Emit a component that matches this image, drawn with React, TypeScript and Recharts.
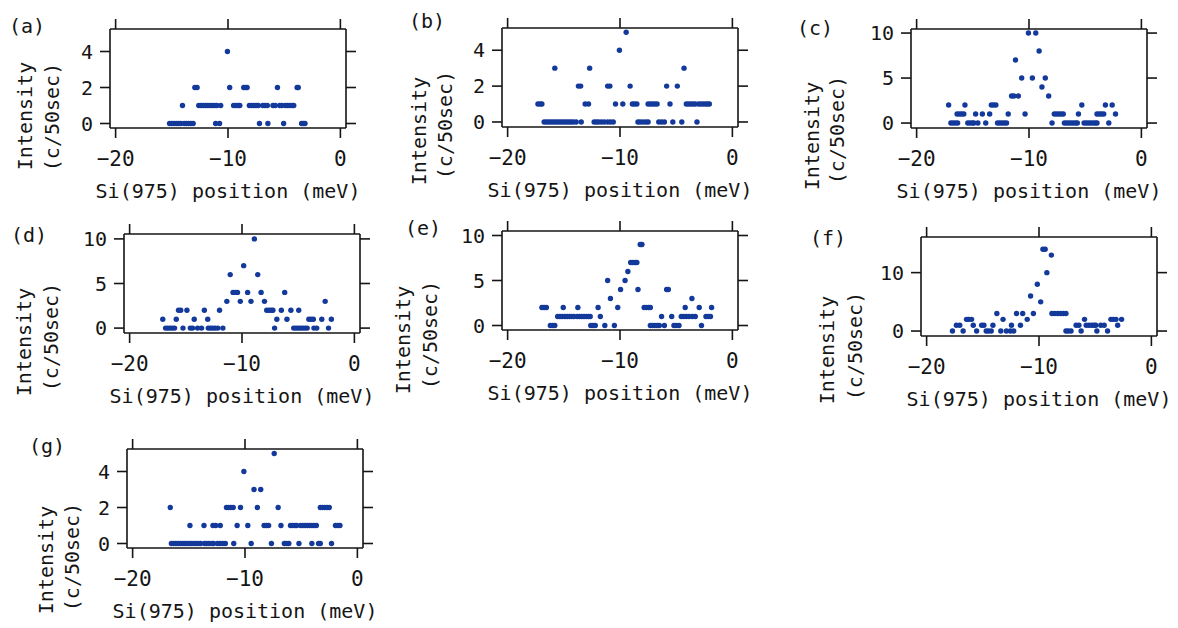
import { ScatterChart, Scatter, XAxis, YAxis } from 'recharts'

// each row: [count, positions in meV]
type Row = [number, number[]]

const X_TICKS = [-20, -10, 0]
const X_DOMAIN = [-20.5, 0.5]
const TICKS_SMALL = [0, 2, 4]
const TICKS_MID = [0, 5, 10]
const TICKS_F = [0, 10]

const panelA: Row[] = [
  [0, [-15.2, -15.0, -14.8, -14.6, -14.4, -14.2, -13.9, -13.7, -13.5, -13.3, -13.1, -11.1, -10.75, -7.2, -6.45, -5.05, -3.45, -3.3, -3.15]],
  [1, [-14.05, -12.6, -12.4, -12.2, -12.0, -11.8, -11.6, -11.4, -11.2, -11.0, -10.65, -9.5, -9.3, -9.1, -8.95, -8.1, -7.9, -7.7, -7.5, -7.3, -6.9, -6.7, -6.5, -6.0, -5.8, -5.4, -5.2, -4.9, -4.7, -4.5, -4.3, -4.15]],
  [2, [-12.95, -12.75, -9.85, -8.6, -8.45, -8.3, -5.6, -3.85, -3.75]],
  [4, [-10.05]],
]

const panelB: Row[] = [
  [0, [-16.75, -16.55, -16.35, -16.15, -15.95, -15.75, -15.55, -15.35, -15.15, -14.95, -14.75, -14.55, -14.35, -14.15, -13.9, -13.45, -12.3, -12.1, -11.9, -11.65, -11.4, -11.1, -10.85, -10.6, -8.4, -8.2, -7.95, -7.7, -7.5, -6.55, -6.3, -6.05, -5.3, -4.5, -3.15]],
  [1, [-17.3, -17.1, -16.95, -13.1, -12.8, -10.4, -9.75, -8.9, -8.7, -8.5, -7.5, -7.3, -7.1, -6.9, -6.7, -5.55, -4.1, -3.9, -3.7, -3.5, -3.3, -3.0, -2.8, -2.6, -2.4, -2.2, -2.05]],
  [2, [-13.7, -13.5, -11.1, -10.9, -9.1, -5.85, -4.9]],
  [3, [-15.8, -12.7, -4.3]],
  [4, [-10.05]],
  [5, [-9.45]],
]

const panelC: Row[] = [
  [0, [-16.95, -16.75, -16.55, -16.35, -15.45, -15.25, -15.05, -14.9, -14.55, -13.85, -12.8, -12.6, -12.4, -12.2, -12.0, -7.95, -6.85, -6.65, -6.45, -6.25, -6.05, -5.85, -5.7, -5.1, -4.9, -4.7, -4.5, -4.3, -4.1, -3.95, -2.9]],
  [1, [-16.4, -16.2, -16.0, -15.8, -14.75, -14.15, -13.5, -11.85, -10.35, -7.75, -7.55, -7.35, -7.15, -6.95, -5.6, -3.95, -3.75, -3.55, -3.35, -2.3]],
  [2, [-17.15, -15.7, -13.35, -13.15, -12.95, -5.3, -3.2, -2.6]],
  [3, [-11.55, -11.35, -10.95, -8.25]],
  [4, [-8.85]],
  [5, [-10.65, -9.7, -8.55]],
  [7, [-11.2]],
  [8, [-9.1]],
  [10, [-10.05, -9.4]],
]

const panelD: Row[] = [
  [0, [-16.8, -16.6, -16.4, -16.2, -16.0, -15.25, -14.6, -14.4, -13.95, -13.6, -13.0, -12.8, -12.6, -12.4, -12.15, -11.7, -7.1, -5.4, -5.2, -5.0, -4.8, -4.6, -4.4, -4.2, -3.6, -3.35, -2.3]],
  [1, [-17.05, -15.85, -14.25, -13.05, -6.9, -6.0, -4.05, -3.85, -3.65, -2.9, -2.05]],
  [2, [-15.65, -15.45, -14.9, -13.35, -12.0, -7.8, -7.6, -7.4, -7.25, -6.5, -5.65, -4.95]],
  [3, [-11.35, -10.15, -9.2, -8.0, -2.6]],
  [4, [-10.8, -10.6, -10.4, -9.5, -8.3, -6.2]],
  [6, [-11.05, -8.6]],
  [7, [-9.85]],
  [10, [-8.9]],
]

const panelE: Row[] = [
  [0, [-16.2, -16.0, -15.8, -12.6, -12.4, -12.2, -11.35, -10.5, -7.3, -7.1, -6.9, -6.7, -6.5, -6.05, -5.2, -5.0, -4.75, -2.75]],
  [1, [-15.55, -15.35, -15.15, -14.9, -14.7, -14.5, -14.3, -14.1, -13.8, -13.6, -13.4, -13.2, -13.0, -12.8, -12.65, -11.75, -6.3, -5.4, -4.55, -4.35, -4.1, -3.85, -3.55, -3.3, -2.35, -2.15, -1.95]],
  [2, [-16.95, -16.75, -16.55, -15.05, -13.75, -11.95, -10.2, -7.85, -7.65, -7.45, -7.3, -4.2, -2.95, -1.85]],
  [3, [-10.85, -3.6]],
  [4, [-9.95, -8.4, -5.85, -5.7]],
  [5, [-11.1, -9.55]],
  [6, [-9.3]],
  [7, [-9.05, -8.85, -8.65, -8.5]],
  [9, [-8.2, -8.05]],
]

const panelF: Row[] = [
  [0, [-17.7, -16.75, -15.55, -14.7, -14.5, -14.25, -13.4, -12.9, -12.55, -12.25, -7.6, -7.4, -7.15, -6.25, -4.85, -3.9]],
  [1, [-17.35, -17.05, -15.85, -15.1, -14.9, -14.1, -12.45, -11.65, -6.7, -6.45, -5.8, -5.55, -5.3, -5.1, -4.95, -4.5, -4.2, -3.0]],
  [2, [-16.45, -16.25, -16.0, -13.2, -11.05, -5.95, -3.6, -3.4, -3.15, -2.65]],
  [3, [-13.75, -12.0, -11.45, -10.5, -8.85, -8.6, -8.35, -8.1, -7.85, -7.6]],
  [5, [-9.85]],
  [6, [-10.75]],
  [8, [-10.15]],
  [10, [-9.3]],
  [13, [-8.9]],
  [14, [-9.65, -9.45]],
]

const panelG: Row[] = [
  [0, [-16.55, -16.35, -16.15, -15.95, -15.75, -15.55, -15.35, -15.15, -14.95, -14.75, -14.55, -14.35, -14.15, -13.95, -13.6, -13.4, -13.2, -12.95, -12.8, -12.45, -12.25, -12.0, -11.75, -11.0, -9.45, -7.65, -6.5, -6.3, -6.1, -5.2, -4.05, -3.45, -3.3, -2.3]],
  [1, [-14.9, -13.65, -12.85, -12.6, -12.2, -10.7, -9.75, -8.3, -8.1, -7.9, -6.8, -5.95, -5.75, -5.55, -5.4, -5.05, -4.85, -4.65, -4.45, -4.25, -4.05, -3.85, -3.65, -1.95, -1.75, -1.55]],
  [2, [-16.65, -11.65, -11.45, -11.25, -11.05, -10.4, -8.9, -7.05, -3.3, -3.1, -2.9, -2.7, -2.5]],
  [3, [-9.2, -8.6]],
  [4, [-10.1]],
  [5, [-7.4]],
]

const FONT = '"DejaVu Sans Mono", "Liberation Mono", monospace'
const DOT = '#13399b'
const INK = '#151515'

// plot box size and axis gutters around it
const BOX_W = 236
const BOX_H = 99
const LEFT_W = 60
const RIGHT_W = 20
const TOP_H = 20
const BOTTOM_H = 50

const panels = [
  { tag: '(a)', rows: panelA, yDomain: [-0.25, 5.25], yTicks: TICKS_SMALL, box: [110, 29], tagAt: [27, 26], line1: [25, 116], line2: [52, 117] },
  { tag: '(b)', rows: panelB, yDomain: [-0.28, 5.24], yTicks: TICKS_SMALL, box: [502, 28], tagAt: [427, 21], line1: [419, 131], line2: [445, 125] },
  { tag: '(c)', rows: panelC, yDomain: [-0.55, 10.45], yTicks: TICKS_MID, box: [911, 29], tagAt: [815, 28], line1: [812, 136], line2: [837, 130] },
  { tag: '(d)', rows: panelD, yDomain: [-0.55, 10.55], yTicks: TICKS_MID, box: [124, 234], tagAt: [29, 235], line1: [24, 342], line2: [51, 337] },
  { tag: '(e)', rows: panelE, yDomain: [-0.5, 10.5], yTicks: TICKS_MID, box: [502, 231], tagAt: [423, 228], line1: [403, 340], line2: [430, 335] },
  { tag: '(f)', rows: panelF, yDomain: [-0.85, 16.1], yTicks: TICKS_F, box: [921, 237], tagAt: [828, 238], line1: [827, 350], line2: [855, 346] },
  { tag: '(g)', rows: panelG, yDomain: [-0.25, 5.25], yTicks: TICKS_SMALL, box: [127, 449], tagAt: [47, 446], line1: [46, 560], line2: [72, 557] },
]

const minus = (v: number) => String(v).replace('-', '\u2212')

const Dot = (p: any) => <circle cx={p.cx} cy={p.cy} r={2.7} fill={DOT} />
const NoDot = () => <g />
// mirror axes keep their tick marks but carry no numbers
const BlankTick = () => <g />

const axisStroke = { stroke: INK, strokeWidth: 1.6 }

function Label({ x, y, text, rotate }: { x: number; y: number; text: string; rotate?: boolean }) {
  return (
    <div
      style={{
        position: 'absolute',
        left: x,
        top: y,
        transform: `translate(-50%, -50%)${rotate ? ' rotate(-90deg)' : ''}`,
        whiteSpace: 'nowrap',
        fontFamily: FONT,
        fontSize: 20,
        lineHeight: 1,
        color: INK,
      }}
    >
      {text}
    </div>
  )
}

function Panel({ p }: { p: (typeof panels)[number] }) {
  const data = p.rows.flatMap(([count, xs]) => xs.map((x) => ({ x, y: count })))
  const [bx, by] = p.box
  return (
    <>
      <div style={{ position: 'absolute', left: bx - LEFT_W, top: by - TOP_H }}>
        <ScatterChart
          width={LEFT_W + BOX_W + RIGHT_W}
          height={TOP_H + BOX_H + BOTTOM_H}
          margin={{ top: 0, right: 0, bottom: 0, left: 0 }}
        >
          <XAxis
            dataKey="x"
            type="number"
            domain={X_DOMAIN}
            ticks={X_TICKS}
            allowDataOverflow
            height={BOTTOM_H}
            tickSize={10}
            tickMargin={13}
            tickFormatter={minus}
            axisLine={axisStroke}
            tickLine={axisStroke}
            tick={{ fontFamily: FONT, fontSize: 21, fill: INK }}
          />
          <XAxis
            xAxisId="top"
            orientation="top"
            dataKey="x"
            type="number"
            domain={X_DOMAIN}
            ticks={X_TICKS}
            allowDataOverflow
            height={TOP_H}
            tickSize={10}
            axisLine={axisStroke}
            tickLine={axisStroke}
            tick={BlankTick}
          />
          <YAxis
            dataKey="y"
            type="number"
            domain={p.yDomain}
            ticks={p.yTicks}
            allowDataOverflow
            width={LEFT_W}
            tickSize={10}
            tickMargin={7}
            axisLine={axisStroke}
            tickLine={axisStroke}
            tick={{ fontFamily: FONT, fontSize: 20, fill: INK }}
          />
          <YAxis
            yAxisId="right"
            orientation="right"
            dataKey="y"
            type="number"
            domain={p.yDomain}
            ticks={p.yTicks}
            allowDataOverflow
            width={RIGHT_W}
            tickSize={10}
            axisLine={axisStroke}
            tickLine={axisStroke}
            tick={BlankTick}
          />
          <Scatter data={data} xAxisId="top" yAxisId="right" shape={NoDot} isAnimationActive={false} />
          <Scatter data={data} shape={Dot} isAnimationActive={false} />
        </ScatterChart>
      </div>
      <Label x={p.tagAt[0]} y={p.tagAt[1]} text={p.tag} />
      <Label x={p.line1[0]} y={p.line1[1]} text="Intensity" rotate />
      <Label x={p.line2[0]} y={p.line2[1]} text="(c/50sec)" rotate />
      <Label x={bx + BOX_W / 2} y={by + BOX_H + 63} text="Si(975) position (meV)" />
    </>
  )
}

export default function App() {
  return (
    <div style={{ position: 'absolute', left: 0, top: 0, width: 1178, height: 628, background: '#fff' }}>
      {panels.map((p) => (
        <Panel key={p.tag} p={p} />
      ))}
    </div>
  )
}
